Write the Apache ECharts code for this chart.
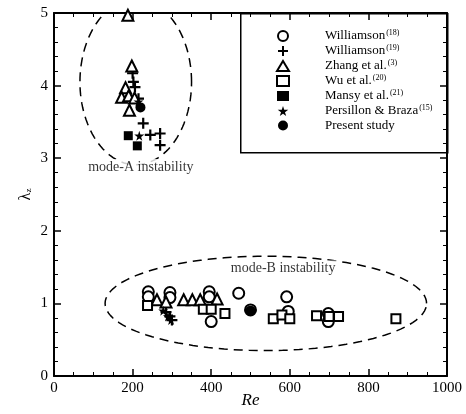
<!DOCTYPE html>
<html>
<head>
<meta charset="utf-8">
<script src="https://cdn.jsdelivr.net/npm/echarts@6/dist/echarts.min.js"></script>
<style>
  html, body { margin: 0; padding: 0; background: #fff; }
  #main { width: 466px; height: 414px; }
</style>
</head>
<body>
<div id="main"></div>
<script>
// data: [Re, lambda_z]
var williamson18 = [[240,1.16],[240,1.09],[295,1.15],[295,1.08],[395,1.16],[395,1.09],[400,0.75],
  [470,1.14],[500,0.91],[592,1.09],[596,0.89],[698,0.86],[698,0.75]];
var williamson19 = [[200,4.17],[202,4.05],[206,3.98],[215,3.82],[227,3.48],[245,3.32],[270,3.34],[270,3.18],
  [285,0.88],[295,0.82],[300,0.77]];
var zhang = [[188,4.97],[198,4.27],[182,3.97],[172,3.84],[190,3.86],[205,3.83],[192,3.66],
  [262,1.05],[285,1.02],[330,1.05],[352,1.05],[372,1.05],[415,1.06]];
var wu = [[238,0.97],[380,0.92],[400,0.92],[435,0.86],[558,0.79],[580,0.84],[600,0.79],
  [668,0.83],[700,0.82],[724,0.82],[870,0.79]];
var mansy = [[189,3.31],[212,3.17]];
var persillon = [[217,3.31],[215,3.78],[278,0.9],[290,0.82],[298,0.77]];
var present = [[220,3.7],[500,0.9]];

// dashed ellipses: [cx, cy, rx, ry]
var ellipseA = [208, 4.05, 142, 1.14];
var ellipseB = [539, 1.0, 409, 0.65];
// region labels
var regionLabels = [[221, 2.88, 'mode-A instability'], [583, 1.48, 'mode-B instability']];

var legendNames = {
  'w18': '{n|Williamson}{s|(18)}',
  'w19': '{n|Williamson}{s|(19)}',
  'zh': '{n|Zhang et al.}{s|(3)}',
  'wu': '{n|Wu et al.}{s|(20)}',
  'ma': '{n|Mansy et al.}{s|(21)}',
  'pb': '{n|Persillon & Braza}{s|(15)}',
  'ps': '{n|Present study}'
};

var FONT = '"Liberation Serif", "DejaVu Serif", serif';
var plusPath = 'path://M4,0H6V4H10V6H6V10H4V6H0V4H4Z';
var starPath = 'path://M50,0L61,35H98L68,57L79,91L50,70L21,91L32,57L2,35H39Z';

function ellipsePts(e) {
  var pts = [];
  for (var i = 0; i <= 120; i++) {
    var t = i / 120 * Math.PI * 2;
    pts.push([e[0] + e[2] * Math.cos(t), e[1] + e[3] * Math.sin(t)]);
  }
  return pts;
}

function sc(name, data, symbol, size, filled) {
  return {
    name: name, type: 'scatter', data: data, symbol: symbol, symbolSize: size,
    itemStyle: { color: '#000', borderColor: '#000', borderWidth: filled ? 0 : 1.6, opacity: 1 },
    z: 5
  };
}

var chart = echarts.init(document.getElementById('main'));

var axisCommon = {
  min: 0,
  axisLine: { show: true, onZero: false, lineStyle: { color: '#000', width: 2 } },
  axisTick: { show: true, inside: true, length: 7, lineStyle: { color: '#000', width: 1.5 } },
  minorTick: { show: true, length: 4, lineStyle: { color: '#000', width: 1 } },
  splitLine: { show: false }
};

var option = {
  backgroundColor: '#fff',
  animation: false,
  textStyle: { fontFamily: FONT },
  grid: { left: 54, right: 19, top: 13, bottom: 38, outerBoundsMode: 'none' },
  xAxis: [
    Object.assign({}, axisCommon, {
      type: 'value', max: 1000, interval: 200, position: 'bottom',
      minorTick: Object.assign({}, axisCommon.minorTick, { splitNumber: 4 }),
      axisLabel: { color: '#000', fontFamily: FONT, fontSize: 15, margin: 5,
        formatter: function (v) { return String(v); } },
      name: 'Re', nameLocation: 'middle', nameGap: 16, nameMoveOverlap: false,
      nameTextStyle: { color: '#000', fontFamily: FONT, fontSize: 17, fontStyle: 'italic' }
    }),
    Object.assign({}, axisCommon, {
      type: 'value', max: 1000, interval: 200, position: 'top',
      minorTick: Object.assign({}, axisCommon.minorTick, { splitNumber: 4 }),
      axisLabel: { show: false }
    })
  ],
  yAxis: [
    Object.assign({}, axisCommon, {
      type: 'value', max: 5, interval: 1, position: 'left',
      minorTick: Object.assign({}, axisCommon.minorTick, { splitNumber: 5 }),
      axisLabel: { color: '#000', fontFamily: FONT, fontSize: 15, margin: 6 },
      name: '{l|λ}{z|z}', nameLocation: 'middle', nameGap: 20, nameRotate: 90, nameMoveOverlap: false,
      nameTextStyle: { color: '#000', fontFamily: FONT, fontSize: 16,
        rich: { l: { fontSize: 16, fontFamily: FONT }, z: { fontSize: 9, fontFamily: FONT, padding: [6, 0, 0, 0] } } }
    }),
    Object.assign({}, axisCommon, {
      type: 'value', max: 5, interval: 1, position: 'right',
      minorTick: Object.assign({}, axisCommon.minorTick, { splitNumber: 5 }),
      axisLabel: { show: false }
    })
  ],
  legend: {
    orient: 'vertical', left: 271, top: 24, itemGap: 1, itemWidth: 12, itemHeight: 10,
    data: ['w18', 'w19', 'zh', 'wu', 'ma', 'pb', 'ps'],
    formatter: function (n) { return legendNames[n]; },
    textStyle: {
      color: '#000', fontFamily: FONT, fontSize: 13, padding: [0, 0, 0, 31],
      rich: {
        n: { fontSize: 13, lineHeight: 15, fontFamily: FONT, color: '#000' },
        s: { fontSize: 8, lineHeight: 8, fontFamily: FONT, color: '#000', padding: [0, 0, 6, 1] }
      }
    }
  },
  graphic: [{
    type: 'rect', left: 240, top: 13, z: 0,
    shape: { width: 207, height: 139 },
    style: { fill: '#fff', stroke: '#000', lineWidth: 1.5 }
  }],
  series: [
    { type: 'line', data: ellipsePts(ellipseA), showSymbol: false, silent: true, clip: true,
      lineStyle: { color: '#000', width: 1.5, type: [9, 6] }, z: 1 },
    { type: 'line', data: ellipsePts(ellipseB), showSymbol: false, silent: true, clip: true,
      lineStyle: { color: '#000', width: 1.5, type: [9, 6] }, z: 1 },
    { type: 'scatter', symbolSize: 0, silent: true, z: 3,
      data: regionLabels.map(function (d) { return { value: [d[0], d[1]], name: d[2] }; }),
      label: { show: true, position: 'inside', formatter: '{b}', color: '#000', fontFamily: FONT, fontSize: 14,
        backgroundColor: '#fff', padding: [1, 2] } },
    sc('w18', williamson18, 'emptyCircle', 11, false),
    sc('w19', williamson19, plusPath, 11, true),
    sc('zh', zhang, 'emptyTriangle', 11, false),
    sc('wu', wu, 'emptyRect', 9, false),
    sc('ma', mansy, 'rect', 9, true),
    sc('pb', persillon, starPath, 10, true),
    sc('ps', present, 'circle', 10, true)
  ]
};

chart.setOption(option);
</script>
</body>
</html>
